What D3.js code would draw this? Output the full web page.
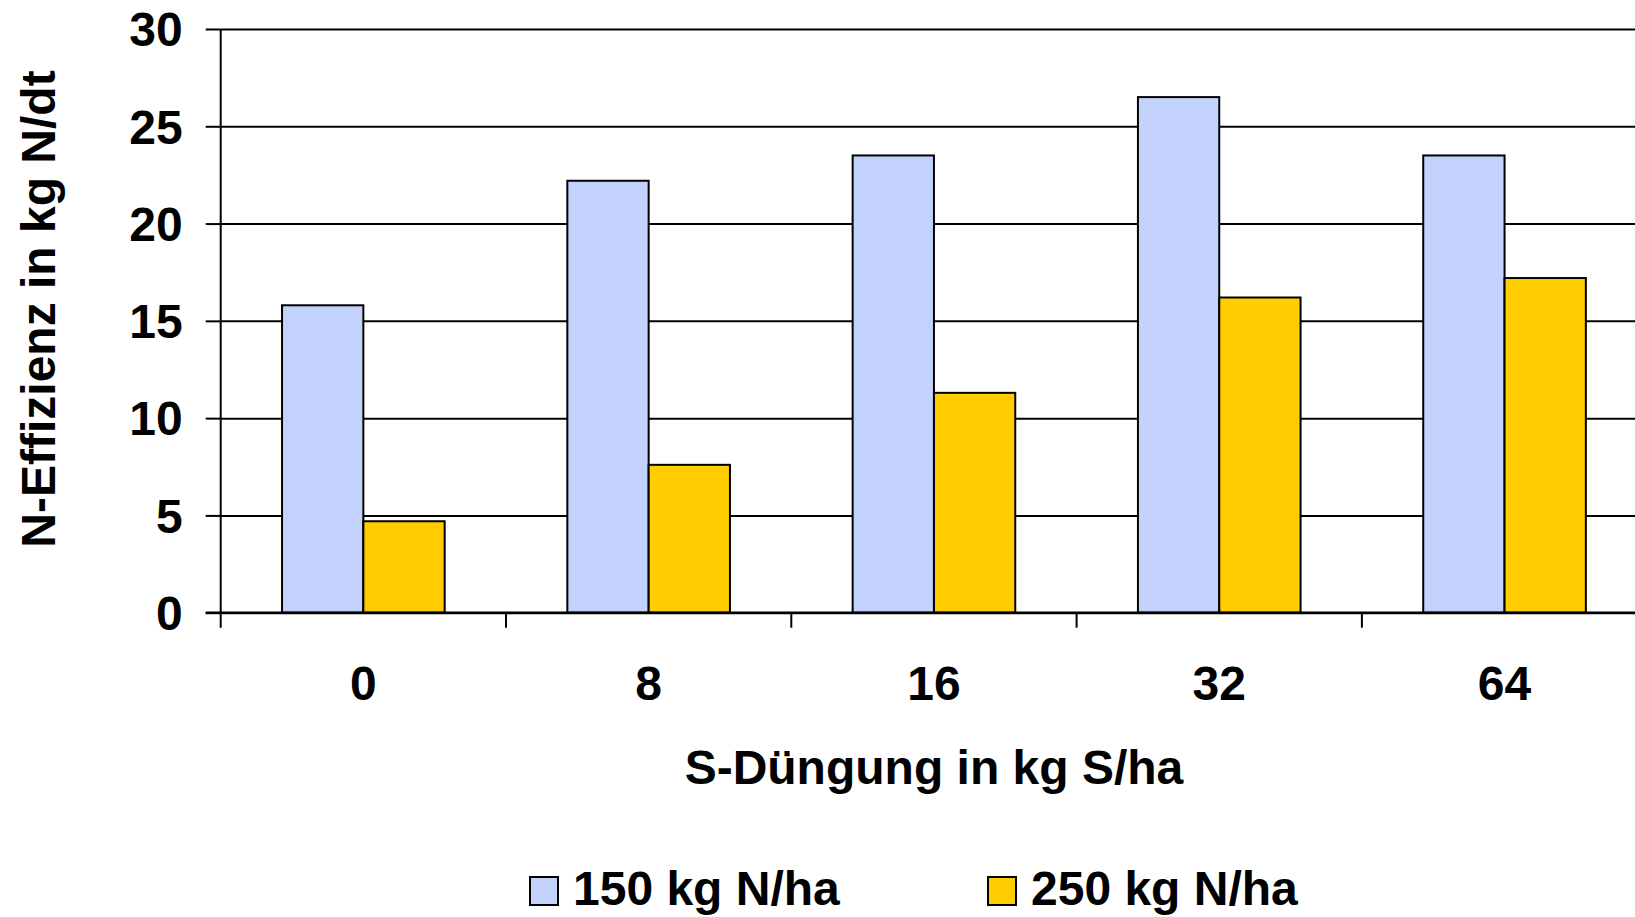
<!DOCTYPE html>
<html>
<head>
<meta charset="utf-8">
<script src="https://cdn.jsdelivr.net/npm/d3@7"></script>
<style>
  body { margin: 0; background: white; }
  svg { display: block; }
  text { font-family: "Liberation Sans", Arial, sans-serif; font-weight: bold; fill: black; }
</style>
</head>
<body>
<div id="chart"></div>
<script>

var categories = ["0", "8", "16", "32", "64"];
var seriesNames = ["150 kg N/ha", "250 kg N/ha"];
var n150 = [15.8, 22.2, 23.5, 26.5, 23.5];
var n250 = [4.7, 7.6, 11.3, 16.2, 17.2];
var yTicks = [0, 5, 10, 15, 20, 25, 30];
var colors = ["#c3d2fc", "#ffcc00"];

var svg = d3.select("#chart")
            .append("svg")
            .attr("width", 1635)
            .attr("height", 917);

var plotLeft = 220.7, plotTop = 29, plotBottom = 612.7, step = 285.3;

var x0 = d3.scaleBand()
           .domain(categories)
           .range([plotLeft, plotLeft + step * categories.length])
           .paddingInner(0.43)
           .paddingOuter(0.215);

var x1 = d3.scaleBand()
           .domain([0, 1])
           .range([0, x0.bandwidth()]);

var y = d3.scaleLinear().domain([0, 30]).range([plotBottom, plotTop]);

// gridlines + y ticks
svg.append("g")
   .attr("transform", "translate(" + plotLeft + ",0)")
   .call(d3.axisLeft(y).tickValues(yTicks).tickSize(15).tickPadding(23))
   .call(function(g){
     g.select(".domain").remove();
     g.selectAll(".tick line").clone()
      .attr("x2", 1500)
      .attr("x1", 0);
     g.selectAll(".tick line")
      .attr("stroke", "black")
      .attr("stroke-width", 2);
     g.selectAll(".tick text")
      .attr("font-size", 48)
      .attr("font-family", "Liberation Sans, Arial, sans-serif")
      .attr("font-weight", "bold")
      .attr("dy", "0.35em");
   });

// bars
var series = [n150, n250];
var groups = svg.append("g")
   .selectAll("g")
   .data(categories)
   .enter()
   .append("g")
   .attr("transform", function(d){ return "translate(" + x0(d) + ",0)"; });

groups.selectAll("rect")
   .data(function(d, i){ return series.map(function(s, k){ return {k: k, v: s[i]}; }); })
   .enter()
   .append("rect")
   .attr("x", function(d){ return x1(d.k); })
   .attr("y", function(d){ return y(d.v); })
   .attr("width", x1.bandwidth())
   .attr("height", function(d){ return y(0) - y(d.v); })
   .attr("fill", function(d){ return colors[d.k]; })
   .attr("stroke", "black")
   .attr("stroke-width", 2);

// x axis line and boundary ticks
svg.append("line")
   .attr("x1", plotLeft - 15)
   .attr("x2", 1640)
   .attr("y1", y(0))
   .attr("y2", y(0))
   .attr("stroke", "black")
   .attr("stroke-width", 2.5);

svg.append("line")
   .attr("x1", plotLeft)
   .attr("x2", plotLeft)
   .attr("y1", plotTop)
   .attr("y2", y(0) + 15)
   .attr("stroke", "black")
   .attr("stroke-width", 2);

svg.append("g")
   .selectAll("line")
   .data(d3.range(1, categories.length + 1))
   .enter()
   .append("line")
   .attr("x1", function(i){ return x0.range()[0] + i * x0.step(); })
   .attr("x2", function(i){ return x0.range()[0] + i * x0.step(); })
   .attr("y1", y(0))
   .attr("y2", y(0) + 15)
   .attr("stroke", "black")
   .attr("stroke-width", 2);

// category labels
svg.append("g")
   .attr("transform", "translate(0," + y(0) + ")")
   .call(d3.axisBottom(x0).tickSize(0).tickPadding(0))
   .call(function(g){
     g.select(".domain").remove();
     g.selectAll(".tick text")
      .attr("y", 87)
      .attr("dy", 0)
      .attr("font-size", 48)
      .attr("font-family", "Liberation Sans, Arial, sans-serif")
      .attr("font-weight", "bold");
   });

// axis titles
svg.append("text")
   .attr("x", plotLeft + step * categories.length / 2)
   .attr("y", 784)
   .attr("text-anchor", "middle")
   .attr("font-size", 48)
   .text("S-Düngung in kg S/ha");

svg.append("text")
   .attr("transform", "translate(55,309) rotate(-90)")
   .attr("text-anchor", "middle")
   .attr("font-size", 48)
   .text("N-Effizienz in kg N/dt");

// legend
var legendX = [530, 988];
var legend = svg.append("g")
   .selectAll("g")
   .data(seriesNames)
   .enter()
   .append("g")
   .attr("transform", function(d, i){ return "translate(" + legendX[i] + ",877)"; });

legend.append("rect")
   .attr("width", 28)
   .attr("height", 28)
   .attr("fill", function(d, i){ return colors[i]; })
   .attr("stroke", "black")
   .attr("stroke-width", 2);

legend.append("text")
   .attr("x", 43)
   .attr("y", 28)
   .attr("font-size", 48)
   .text(function(d){ return d; });

</script>
</body>
</html>
